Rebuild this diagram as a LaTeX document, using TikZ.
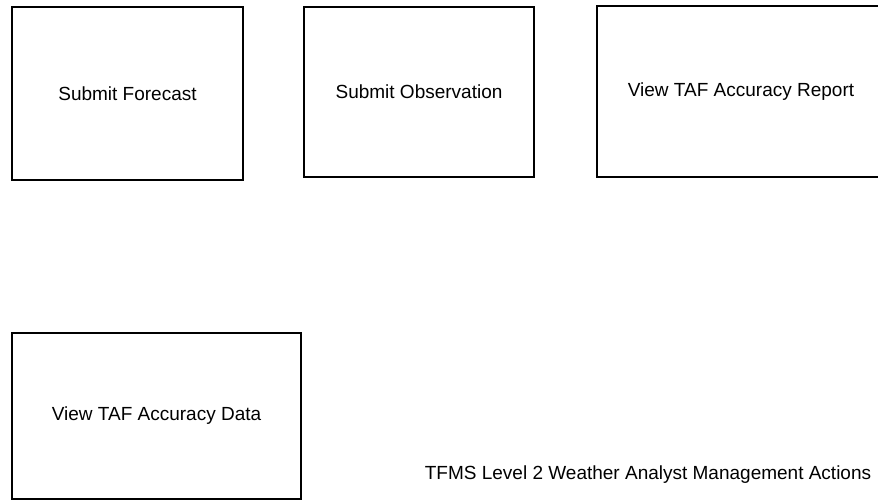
\documentclass[tikz,border=0pt]{standalone}
\usepackage{fontspec}
\setmainfont{Liberation Sans}
\usepackage{tikz}

\begin{document}
\begin{tikzpicture}[x=1pt, y=-1pt,
    actionbox/.style={draw, line width=2pt, align=center, font=\fontsize{19}{22}\selectfont}]
    \useasboundingbox (0,0) rectangle (878,501);
    \node[actionbox, minimum width=231pt, minimum height=173pt] (forecast) at (127.5,93.5) {Submit Forecast};
    \node[actionbox, minimum width=230pt, minimum height=170pt] (observation) at (419,92) {Submit Observation};
    \node[actionbox, minimum width=288pt, minimum height=171pt] (report) at (741,91.5) {View TAF Accuracy Report};
    \node[actionbox, minimum width=289pt, minimum height=166pt] (data) at (156.5,416) {View TAF Accuracy Data};
    \node[anchor=base, font=\fontsize{19}{22}\selectfont] (caption) at (648,479) {TFMS Level 2 Weather Analyst Management Actions};
  \end{tikzpicture}
\end{document}
